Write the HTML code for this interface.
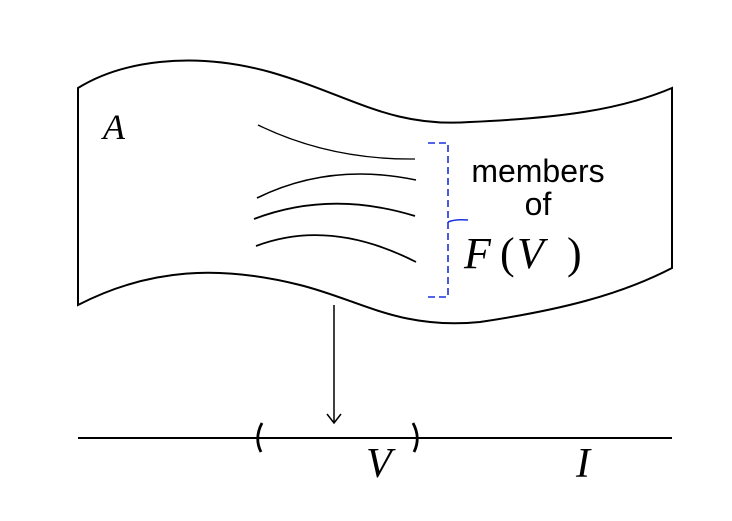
<!DOCTYPE html>
<html><head><style>body{margin:0;background:#fff}</style></head><body>
<svg width="732" height="516" viewBox="0 0 732 516" xmlns="http://www.w3.org/2000/svg">
<g fill="none" stroke="#000" stroke-width="2">
<path d="M78,88 C120,62 190,50 270,72 C350,95 390,128 470,122 C560,118 620,110 672,88 L672,268 C620,295 560,310 480,322 C400,330 360,300 300,285 C220,265 150,268 78,305 Z"/>
<path d="M258,125 Q330,160 415,159" stroke-width="1.3"/>
<path d="M257,198 Q330,162 416,180" stroke-width="1.6"/>
<path d="M254,219 Q330,190 415,216" stroke-width="1.8"/>
<path d="M256,246 Q330,218 416,262" stroke-width="1.8"/>
<line x1="334" y1="305" x2="334" y2="423" stroke-width="1.5"/>
<path d="M327,414 L334,423 L341,414" stroke-width="1.5"/>
<line x1="78" y1="438" x2="672" y2="438"/>
<path d="M262,423 Q254,438 261,452" stroke-width="2.8"/>
<path d="M413,423 Q421,438 414,452" stroke-width="2.8"/>
</g>
<g fill="none" stroke="#1a2fe0" stroke-width="1.6">
<path d="M428,143 L448,143 L448,297 L428,297" stroke-dasharray="7,4"/>
<path d="M448,222 Q455,219 468,220"/>
</g>
<g font-family="Liberation Serif, serif" font-style="italic" fill="#000">
<text x="103" y="139" font-size="36">A</text>
<text x="366" y="477" font-size="42">V</text>
<text x="576" y="477" font-size="42">I</text>
<text x="464" y="268" font-size="44">F</text>
<text x="500" y="268" font-size="44" font-style="normal">(</text>
<text x="517" y="268" font-size="44">V</text>
<text x="567" y="268" font-size="44" font-style="normal">)</text>
</g>
<g font-family="Liberation Sans, sans-serif" font-size="32" fill="#000" text-anchor="middle">
<text x="538" y="182">members</text>
<text x="538" y="215">of</text>
</g>
</svg>
</body></html>
